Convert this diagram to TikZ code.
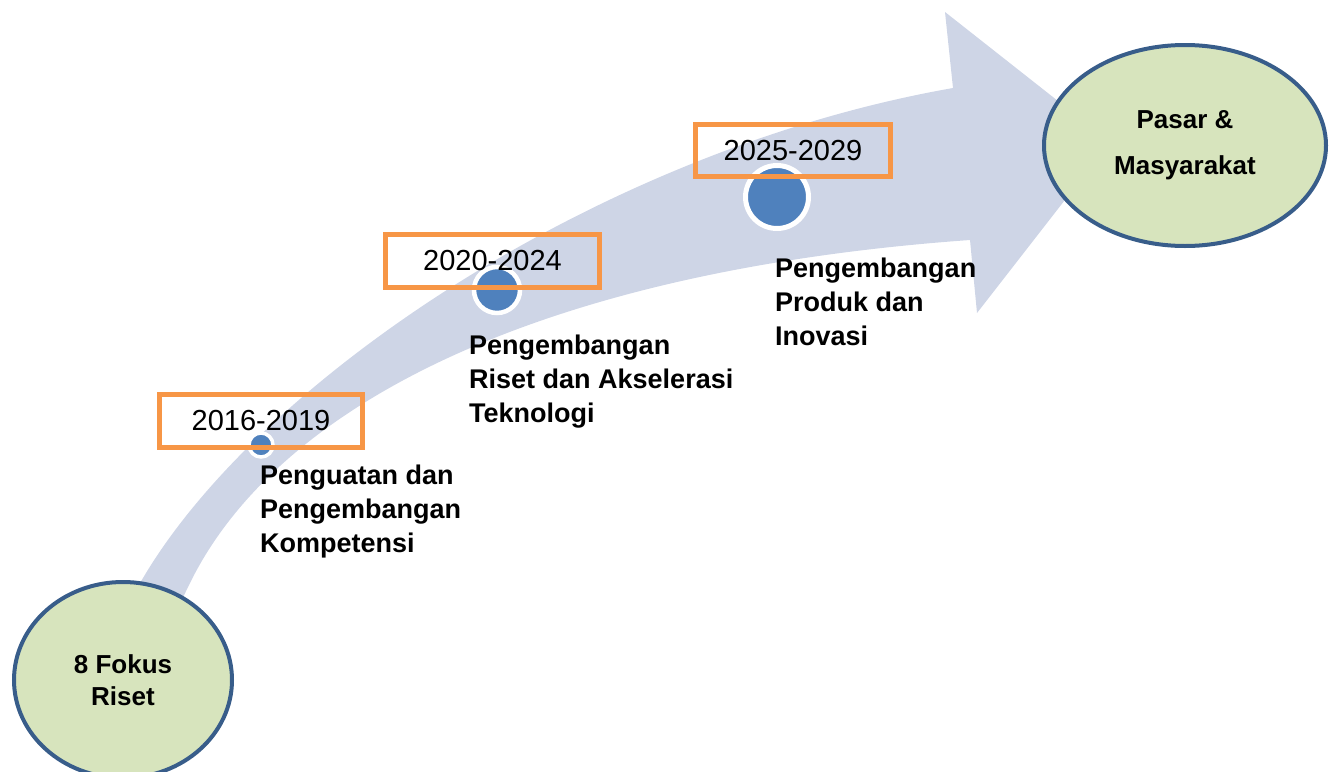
\documentclass[tikz,border=0pt]{standalone}
\usepackage{fontspec}
\setmainfont{Liberation Sans}
\usetikzlibrary{shapes.geometric}
\definecolor{arrowfill}{RGB}{206,213,230}
\definecolor{goalfill}{RGB}{215,228,189}
\definecolor{goalline}{RGB}{56,93,138}
\definecolor{dotblue}{RGB}{79,129,189}
\definecolor{yearline}{RGB}{247,150,70}
\begin{document}
\begin{tikzpicture}[x=1pt,y=-1pt,
  goal node/.style={ellipse,draw=goalline,line width=4pt,fill=goalfill,inner sep=0pt,align=center},
  phase dot/.style={circle,draw=white,fill=dotblue,inner sep=0pt},
  year box/.style={draw=yearline,line width=4.5pt,inner sep=0pt,minimum height=53pt,font=\fontsize{29}{34}\selectfont},
  phase text/.style={anchor=north west,inner sep=0pt,align=left,font=\bfseries\fontsize{27}{34}\selectfont}]
\clip (0,0) rectangle (1338,771);
% big curved arrow
\fill[arrowfill] (130,600) -- (143,578) .. controls (260,380) and (600,150) .. (953,88) -- (945,12) -- (1110,142)
  -- (977,313) -- (970,240) .. controls (550,270) and (280,400) .. (190,583) -- (172,620) -- cycle;
% milestones
\node[phase dot,line width=3.5pt,minimum size=24pt] (d1) at (261,445) {};
\node[phase dot,line width=4.5pt,minimum size=46pt] (d2) at (497,290) {};
\node[phase dot,line width=5pt,minimum size=63pt] (d3) at (777,197) {};
\node[year box,minimum width=203pt] (y1) at (261,421) {2016-2019};
\node[year box,minimum width=214pt] (y2) at (492.5,261) {2020-2024};
\node[year box,minimum width=195pt,minimum height=52pt] (y3) at (793,150.5) {2025-2029};
\node[phase text] (t1) at (260,465) {Penguatan dan\\Pengembangan\\Kompetensi};
\node[phase text] (t2) at (469,335) {Pengembangan\\Riset dan Akselerasi\\Teknologi};
\node[phase text] (t3) at (775,258) {Pengembangan\\Produk dan\\Inovasi};
% start and goal
\node[goal node,minimum width=218pt,minimum height=196pt,font=\bfseries\fontsize{26}{32}\selectfont] (fokus) at (123,680) {8 Fokus\\Riset};
\node[goal node,minimum width=282pt,minimum height=201pt,font=\bfseries\fontsize{26}{46}\selectfont] (pasar) at (1185,145.5) {Pasar \&\\Masyarakat};
\end{tikzpicture}
\end{document}
